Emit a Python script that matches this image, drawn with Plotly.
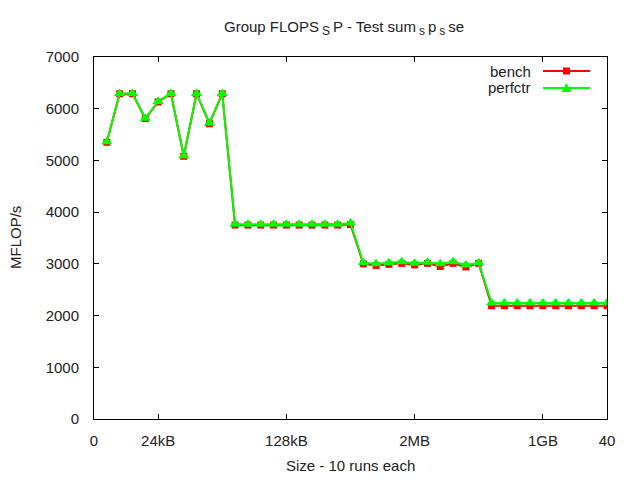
import plotly.graph_objects as go

sizes = [1, 2, 3, 4, 5, 6, 7, 8, 9, 10,
         11, 12, 13, 14, 15, 16, 17, 18, 19, 20,
         21, 22, 23, 24, 25, 26, 27, 28, 29, 30,
         31, 32, 33, 34, 35, 36, 37, 38, 39, 40]
bench = [5350, 6290, 6290, 5810, 6130, 6290, 5080, 6290, 5710, 6290,
         3750, 3750, 3750, 3750, 3750, 3750, 3750, 3750, 3750, 3760,
         3000, 2970, 2990, 3010, 2980, 3010, 2950, 3010, 2940, 3010,
         2190, 2190, 2190, 2190, 2190, 2190, 2190, 2190, 2190, 2190]
perfctr = [5360, 6295, 6295, 5815, 6140, 6295, 5090, 6295, 5720, 6295,
           3765, 3765, 3765, 3765, 3765, 3765, 3765, 3765, 3765, 3790,
           3020, 3000, 3020, 3040, 3010, 3030, 3000, 3040, 2980, 3020,
           2245, 2245, 2245, 2245, 2245, 2245, 2245, 2245, 2245, 2245]
xtick_vals = [0, 5, 15, 25, 35, 40]
xtick_text = ["0", "24kB", "128kB", "2MB", "1GB", "40"]
series_names = ["bench", "perfctr"]
colors = ["#ff0000", "#00ff00"]

FONT = "Liberation Sans, Arial, sans-serif"
FS = 15
W, H = 640, 480
L, R, T, B = 94, 607, 57, 419


def px(x):
    return (x - L) / (R - L)


def py(y):
    return (B - y) / (B - T)


fig = go.Figure()
fig.add_trace(go.Scatter(x=sizes, y=bench, name=series_names[0], mode="lines+markers",
                         line=dict(color=colors[0], width=2),
                         marker=dict(symbol="square", size=7, color=colors[0]),
                         showlegend=False))
fig.add_trace(go.Scatter(x=sizes, y=perfctr, name=series_names[1], mode="lines+markers",
                         line=dict(color=colors[1], width=2),
                         marker=dict(symbol="triangle-up", size=10, color=colors[1]),
                         showlegend=False))

axis_common = dict(showline=True, linecolor="black", linewidth=1, mirror="ticks",
                   ticks="inside", ticklen=5, tickcolor="black", showgrid=False,
                   zeroline=False, tickfont=dict(family=FONT, size=FS, color="#222"))
fig.update_xaxes(range=[0, 40], tickmode="array", tickvals=xtick_vals, ticktext=xtick_text,
                 ticklabelstandoff=8, **axis_common)
fig.update_yaxes(range=[0, 7000], dtick=1000, ticklabelstandoff=11, **axis_common)

ts = "\u2009"
sub = ts + '<sub><span style="font-size:12px">{}</span></sub>' + ts
title = "Group FLOPS" + sub.format("S") + "P - Test sum" + sub.format("s") + "p" + sub.format("s") + "se"

annotations = [
    dict(text=title,
         xref="paper", yref="paper", x=px(344), y=py(28), showarrow=False,
         xanchor="center", yanchor="middle", font=dict(family=FONT, size=FS, color="#222")),
    dict(text="MFLOP/s", xref="paper", yref="paper", x=px(15), y=py(238), textangle=-90,
         showarrow=False, xanchor="center", yanchor="middle",
         font=dict(family=FONT, size=FS, color="#222")),
    dict(text="Size - 10 runs each", xref="paper", yref="paper", x=px(350), y=py(465),
         showarrow=False, xanchor="center", yanchor="middle",
         font=dict(family=FONT, size=FS, color="#222")),
]
shapes = []
legend_rows = [71, 88]
for i, name in enumerate(series_names):
    yy = legend_rows[i]
    annotations.append(dict(text=name, xref="paper", yref="paper", x=px(533), y=py(yy),
                            showarrow=False, xanchor="right", yanchor="middle",
                            font=dict(family=FONT, size=FS, color="#222")))
    shapes.append(dict(type="line", xref="paper", yref="paper", x0=px(543), x1=px(590),
                       y0=py(yy), y1=py(yy), line=dict(color=colors[i], width=2)))
# legend markers
shapes.append(dict(type="rect", xref="paper", yref="paper", x0=px(563), x1=px(570),
                   y0=py(74.5), y1=py(67.5), fillcolor=colors[0], line=dict(width=0)))
shapes.append(dict(type="path", xref="paper", yref="paper",
                   path=f"M {px(561.5)} {py(92)} L {px(571.5)} {py(92)} L {px(566.5)} {py(83)} Z",
                   fillcolor=colors[1], line=dict(width=0)))

fig.update_layout(width=W, height=H, margin=dict(l=L, r=W - R, t=T, b=H - B),
                  paper_bgcolor="white", plot_bgcolor="white",
                  annotations=annotations, shapes=shapes, showlegend=False)
fig.write_html("out.html")
